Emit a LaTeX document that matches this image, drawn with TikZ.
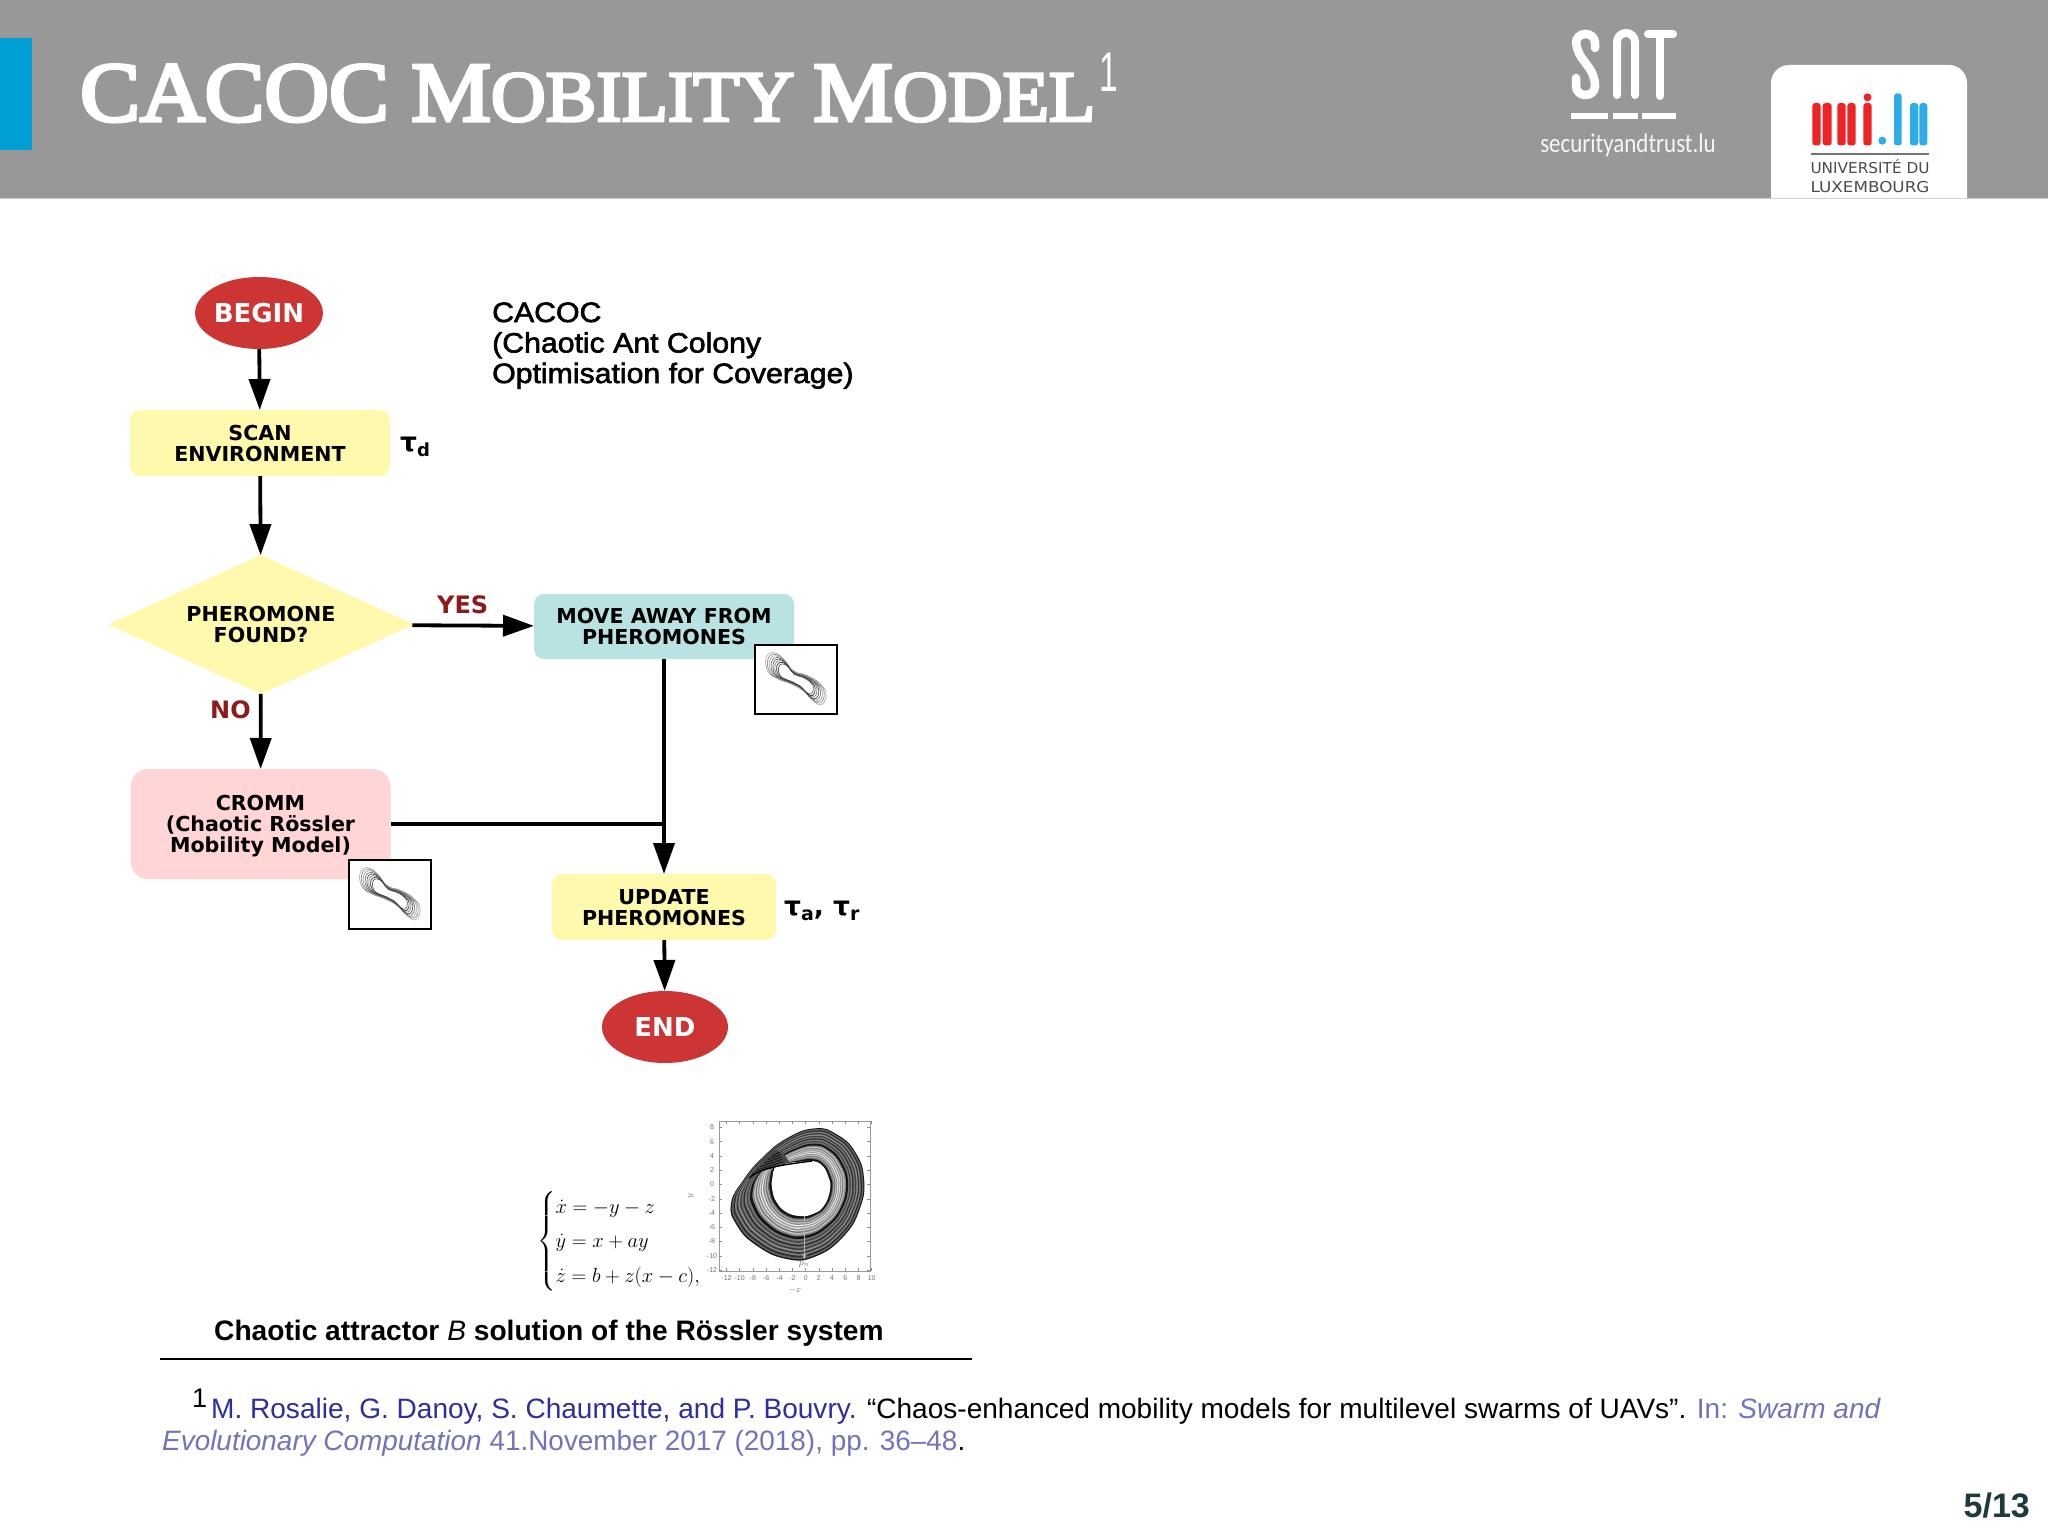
\documentclass[tikz,border=0pt]{standalone}
\usepackage{fix-cm}
\usepackage{amsmath}
\usepackage{fontspec}
\setmainfont{Liberation Sans}
\newfontfamily\titlefont[FakeBold=4]{Liberation Serif}
\newfontfamily\flowfont{DejaVu Sans}
\newfontfamily\logofont{Carlito}
\newfontfamily\sidefont[FakeBold=2]{Liberation Sans}
\usetikzlibrary{arrows.meta,calc,shapes.geometric}
\newcommand{\fs}[1]{\fontsize{#1}{#1}\selectfont}
\definecolor{headgray}{HTML}{999899}
\definecolor{sideblue}{HTML}{00A0D6}
\definecolor{redcap}{HTML}{CC3534}
\definecolor{paleyellow}{HTML}{FFF9AE}
\definecolor{paleteal}{HTML}{B9E3E3}
\definecolor{palepink}{HTML}{FFD5D5}
\definecolor{darkanswer}{HTML}{8E1B1B}
\definecolor{unired}{HTML}{EE2326}
\definecolor{uniblue}{HTML}{2FACE8}
\definecolor{authorblue}{HTML}{2E2E9E}
\definecolor{citeblue}{HTML}{7373BD}
\definecolor{pagedark}{HTML}{1F3A3D}
\newcommand{\ringpath}[1]{plot[smooth cycle, tension=0.8] coordinates {($(i1)!#1!(o1)$) ($(i2)!#1!(o2)$) ($(i3)!#1!(o3)$) ($(i4)!#1!(o4)$) ($(i5)!#1!(o5)$) ($(i6)!#1!(o6)$) ($(i7)!#1!(o7)$) ($(i8)!#1!(o8)$) ($(i9)!#1!(o9)$) ($(i10)!#1!(o10)$) ($(i11)!#1!(o11)$) ($(i12)!#1!(o12)$) ($(i13)!#1!(o13)$) ($(i14)!#1!(o14)$)}}
\newcommand{\chaosthumb}[1]{%
  \begin{scope}[shift={(#1)}]
    \foreach \s/\g in {1/35, 0.94/50, 0.88/40, 0.82/60, 0.76/75, 0.7/55, 0.64/85, 0.58/70} {
      \draw[black!\g, line width=0.6pt, scale=\s] plot[smooth cycle, tension=0.8] coordinates {(-30,-21) (-23,-27) (-13,-21) (-3,-9) (11,-4) (24,4) (30,14) (26,25) (17,21) (7,11) (-6,4) (-19,-1) (-28,-8)};
    }
  \end{scope}}
\tikzset{
  startend/.style={ellipse, fill=redcap, text=white, minimum width=126pt, minimum height=72pt, inner sep=0pt, outer sep=0pt, font=\flowfont\bfseries\fs{26}},
  flowbox/.style={rectangle, rounded corners=10pt, inner sep=0pt, outer sep=0pt, align=center, font=\flowfont\bfseries\fontsize{20.6}{21}\selectfont},
  decision/.style={diamond, aspect=2.2, fill=paleyellow, inner sep=0pt, outer sep=0pt, minimum width=306pt, minimum height=139pt, align=center, font=\flowfont\bfseries\fontsize{20.6}{21}\selectfont},
  flowline/.style={draw=black, line width=3.8pt},
  flowarrow/.style={flowline, -{Triangle[length=31pt,width=21pt]}},
  answer/.style={text=darkanswer, inner sep=0pt, anchor=base west, font=\flowfont\bfseries\fs{24}},
  taulabel/.style={inner sep=0pt, anchor=base west, font=\flowfont\bfseries\fs{26.5}},
  thumbbox/.style={rectangle, draw=black, line width=1.6pt, fill=white, inner sep=0pt, minimum width=82pt, minimum height=69pt},
  sidetext/.style={inner sep=0pt, anchor=base west, xscale=1.08, font=\sidefont\fs{28}},
  citetext/.style={inner sep=0pt, anchor=base west, font=\fs{28.05}},
  plotnum/.style={inner sep=0pt, text=black!55, font=\rmfamily\fs{7}}
}
\begin{document}
\begin{tikzpicture}[x=1pt,y=-1pt]
  \useasboundingbox (0,0) rectangle (2048,1536);
  \fill[white] (0,0) rectangle (2048,1536);
  \fill[headgray] (0,0) rectangle (2048,198);
  \draw[black!20, line width=1pt] (0,198.5) -- (2048,198.5);
  \fill[sideblue] (0,38) rectangle (32,150);
  \node[inner sep=0pt, anchor=base west, text=white, xscale=1.054] (title) at (80,121) {\titlefont\fs{85}CACOC M\fs{72}OBILITY \fs{85}M\fs{72}ODEL};
  \node[inner sep=0pt, anchor=base west, text=white, xscale=0.6, font=\fs{56}] (titlemark) at (1099,92) {1};

  % snt logo
  \draw[white, line width=8.5pt, line cap=round, rounded corners=9pt] (1595,48) -- (1595,34) -- (1576,34) -- (1576,50) -- (1595,76) -- (1595,95) -- (1576,95) -- (1576,78);
  \draw[white, line width=8pt, line cap=round, rounded corners=9pt] (1617,95) -- (1617,33) -- (1635,33) -- (1635,95);
  \draw[white, line width=8pt, line cap=round] (1648,34) -- (1673,34) (1660,34) -- (1660,96);
  \foreach \xa/\xb in {1571/1608, 1612.5/1637.5, 1641.5/1676} { \fill[white] (\xa,112.7) rectangle (\xb,118.7); }
  \node[inner sep=0pt, anchor=base, text=white!92!headgray, font=\logofont\fs{27}, xscale=0.85] (snturl) at (1628,153) {securityandtrust.lu};

  % uni.lu logo
  \fill[white] (1771,198) [rounded corners=18pt] -- (1771,65) -- (1967,65) [sharp corners] -- (1967,198) -- cycle;
  \foreach \xa/\xb in {1812.3/1820.7, 1822.7/1831.7, 1837.3/1845.7, 1847.3/1855.7, 1863.3/1871.7} { \fill[unired, rounded corners=3pt] (\xa,103) rectangle (\xb,145.5); }
  \fill[unired] (1867.5,97.3) circle (4pt);
  \fill[uniblue] (1882.3,140.7) circle (4pt);
  \fill[uniblue, rounded corners=3pt] (1894,93.3) rectangle (1901.7,145.5);
  \foreach \xa/\xb in {1910/1918.3, 1919.3/1927.3} { \fill[uniblue, rounded corners=3pt] (\xa,103) rectangle (\xb,145.5); }
  \draw[black!55, line width=1.2pt] (1811,154) -- (1929,154);
  \node[inner sep=0pt, anchor=base, text=black!70, xscale=1.02, font=\flowfont\fs{15}] (unia) at (1870,173) {UNIVERSITÉ DU};
  \node[inner sep=0pt, anchor=base, text=black!70, xscale=1.12, font=\flowfont\fs{15}] (unib) at (1870,193) {LUXEMBOURG};

  % flow chart
  \node[startend] (begin) at (259,313) {BEGIN};
  \node[flowbox, fill=paleyellow, minimum width=260pt, minimum height=66pt] (scan) at (260,443) {\rule{0pt}{17pt}SCAN\\ENVIRONMENT};
  \node[decision] (found) at (261,624.5) {PHEROMONE\\FOUND?};
  \node[flowbox, fill=paleteal, minimum width=260pt, minimum height=65pt] (move) at (664,626.5) {MOVE AWAY FROM\\PHEROMONES};
  \node[flowbox, fill=palepink, rounded corners=18pt, minimum width=260pt, minimum height=110pt] (cromm) at (260.5,824) {\rule{0pt}{19pt}CROMM\\(Chaotic Rössler\\Mobility Model)};
  \node[flowbox, fill=paleyellow, minimum width=224pt, minimum height=66pt] (update) at (664,907) {\rule{0pt}{17pt}UPDATE\\PHEROMONES};
  \node[startend] (end) at (665,1027) {END};
  \coordinate (join) at (update.north |- cromm.east);

  \draw[flowarrow] (begin) -- (scan);
  \draw[flowarrow] (scan) -- (found);
  \draw[flowarrow] (found) -- (move);
  \draw[flowarrow] (found) -- (cromm);
  \draw[flowarrow] (move) -- (update);
  \draw[flowline] (cromm.east) -- (join);
  \draw[flowarrow] (update) -- (end);

  \node[answer] (yes) at (437,613) {YES};
  \node[answer] (no) at (210,718) {NO};
  \node[taulabel] (taud) at (400,451) {τ\raisebox{-5pt}{\fs{18}d}};
  \node[taulabel] (tauar) at (784,915) {τ\raisebox{-5pt}{\fs{19}a}, τ\raisebox{-5pt}{\fs{19}r}};

  \node[thumbbox] (thumbmove) at (796,679.5) {};
  \chaosthumb{thumbmove.center}
  \node[thumbbox] (thumbcromm) at (390,894.5) {};
  \chaosthumb{thumbcromm.center}

  \node[sidetext] (capa) at (492,322) {CACOC};
  \node[sidetext] (capb) at (492,352.5) {(Chaotic Ant Colony};
  \node[sidetext] (capc) at (492,383) {Optimisation for Coverage)};

  % rossler system
  \node[inner sep=0pt, anchor=west, font=\fontsize{20.5}{25}\selectfont] (system) at (537,1241) {$\def\arraystretch{1.38}\left\{\begin{array}{@{}l@{}}\dot{x}=-y-z\\ \dot{y}=x+ay\\ \dot{z}=b+z(x-c),\end{array}\right.$};
  \foreach \n/\xa/\ya/\xb/\yb in {1/300/40/290/138, 2/365/58/320/150, 3/420/110/340/185, 4/447/190/345/225, 5/435/280/325/275, 6/385/365/290/298, 7/300/425/255/303, 8/215/432/215/292, 9/125/392/185/262, 10/65/330/172/225, 11/48/265/172/190, 12/85/195/185/152, 13/140/130/225/143, 14/215/70/258/140} {
    \coordinate (o\n) at ({715+\xa/3},{1115+\ya/3});
    \coordinate (i\n) at ({715+\xb/3},{1115+\yb/3});
  }
  \foreach \t/\g in {1/92, 0.97/62, 0.93/82, 0.89/50, 0.85/78, 0.81/45, 0.77/75, 0.73/55, 0.69/82, 0.65/50, 0.61/72, 0.57/55, 0.53/92, 0.47/50, 0.43/25, 0.39/55, 0.36/20, 0.33/45, 0.30/12, 0.27/40, 0.24/8, 0.21/45, 0.18/25, 0.15/55, 0.12/35, 0.09/60, 0.06/92, 0/0} {
    \fill[black!\g] \ringpath{\t};
  }
  \fill[black!72] (749,1178) .. controls (758,1172) and (768,1166) .. (790,1163) .. controls (785,1155) and (783,1152) .. (775,1150) .. controls (765,1158) and (757,1167) .. (749,1178) -- cycle;
  \foreach \k in {0,4,...,20} { \draw[black, line width=0.5pt] (752+\k,1174-\k*0.9) -- (784-\k*0.2,1164-\k*0.6); }
  \draw[black, line width=1.4pt] (749,1178) .. controls (760,1169) and (772,1166) .. (812,1161);
  \draw[black!30, line width=1pt, -{Stealth[length=5pt,width=5pt]}] (804.3,1216) -- (804.3,1259);
  \draw[black!40, line width=1pt] (719,1121) rectangle (870,1271);
  \foreach \v in {-12,-10,...,8} {
    \node[plotnum] (ylab\v) at (712,{1184.5-7.13*\v}) {\v};
    \draw[black!45, line width=0.5pt] (719,{1184.5-7.13*\v}) -- (722,{1184.5-7.13*\v}) (870,{1184.5-7.13*\v}) -- (867,{1184.5-7.13*\v});
  }
  \foreach \v in {-12,-10,...,10} {
    \node[plotnum] (xlab\v) at ({805.7+6.6*\v},1278.5) {\v};
    \draw[black!45, line width=0.5pt] ({805.7+6.6*\v},1271) -- ({805.7+6.6*\v},1268) ({805.7+6.6*\v},1121) -- ({805.7+6.6*\v},1124);
  }
  \node[plotnum, font=\fs{9}] (xname) at (795,1290) {$-x$};
  \node[plotnum, font=\fs{9}, rotate=90] (yname) at (691,1196) {$y$};
  \node[plotnum, font=\fs{10}] (pname) at (804,1264) {$p_n$};

  % caption and reference
  \node[inner sep=0pt, anchor=base west, font=\bfseries\fs{28.15}] (caption) at (214,1340) {Chaotic attractor \textit{\mdseries B} solution of the Rössler system};
  \draw[black, line width=2pt] (160,1359) -- (972,1359);
  \node[inner sep=0pt, anchor=base west, font=\fs{27}] (footmark) at (192,1407) {1};
  \node[citetext] (cita) at (211,1418.5) {\textcolor{authorblue}{M. Rosalie, G. Danoy, S. Chaumette, and P. Bouvry.} “Chaos-enhanced mobility models for multilevel swarms of UAVs”. \textcolor{citeblue}{In: \textit{Swarm and}}};
  \node[citetext, xscale=0.995] (citb) at (162,1450.5) {\textcolor{citeblue}{\textit{Evolutionary Computation} 41.November 2017 (2018), pp. 36–48}.};
  \node[inner sep=0pt, anchor=base east, text=pagedark, font=\bfseries\fs{34}] (pagenum) at (2030,1517) {5/13};
\end{tikzpicture}
\end{document}
